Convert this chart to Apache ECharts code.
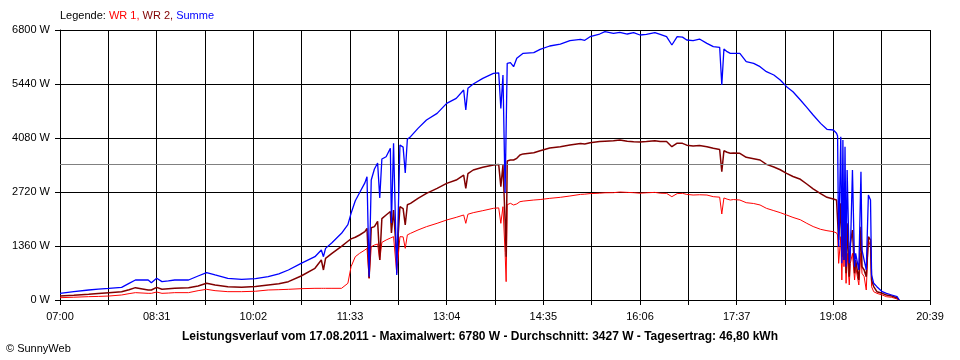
<!DOCTYPE html>
<html>
<head>
<meta charset="utf-8">
<script src="https://cdn.jsdelivr.net/npm/echarts@6/dist/echarts.min.js"></script>
<style>html,body{margin:0;padding:0;background:#fff}#c{width:960px;height:360px}</style>
</head>
<body>
<div id="c"></div>
<script>
// minutes since midnight
const times = [420,433,447,456,466,478,485,491,503,506,511,516,522,528,541,550,558,566,578,591,604,616,626,635,647,660,666,668,670,676,685,691,694,698,702,707,709,711,713,716,719,721,723,727,731,732,734,737,740,743,745,747,750,757,765,775,784,793,800,802,804,809,818,828,833,835,837,839,840,841,844,847,850,853,856,866,872,881,891,900,910,914,919,928,933,941,947,954,960,966,972,980,985,991,996,1001,1006,1010,1016,1022,1029,1035,1041,1043,1045,1048,1051,1054,1060,1066,1073,1079,1085,1092,1098,1104,1110,1117,1123,1129,1136,1142,1148,1151,1152,1153,1155,1156,1157,1158,1159,1160,1161,1163,1164,1166,1168,1169,1172,1174,1175,1177,1179,1181,1183,1184,1186,1189,1194,1198,1203,1208,1210];
const wr1 = [58,70,84,90,100,126,160,185,168,168,201,168,175,185,185,235,269,235,210,210,220,252,260,269,285,294,294,294,294,294,294,420,839,1091,1175,1259,1300,546,1340,1385,1410,1007,1450,1511,1560,1560,1595,672,1595,1590,1301,1640,1679,1763,1847,1931,2015,2082,2141,1931,2160,2199,2250,2309,2320,1931,2350,1200,462,2400,2435,2393,2420,2476,2490,2518,2530,2560,2586,2619,2660,2665,2680,2690,2700,2703,2720,2710,2703,2690,2700,2710,2690,2686,2602,2680,2686,2660,2644,2650,2644,2602,2590,2166,2570,2540,2518,2530,2518,2451,2430,2393,2309,2250,2200,2141,2080,2020,1931,1850,1780,1746,1721,1690,1637,923,1595,504,1511,839,1343,420,1175,378,923,1175,504,839,378,1175,672,588,252,1511,1343,336,210,168,126,84,67,25,0];
const wr2 = [100,120,143,165,185,210,260,311,252,252,319,269,285,294,311,353,420,378,336,319,340,378,410,462,604,798,1007,756,1050,1175,1350,1480,1540,1580,1637,1720,1805,546,1820,1847,1980,1007,2050,2141,2230,1687,2267,1049,2350,2300,1889,2400,2435,2561,2686,2812,2938,3022,3148,2812,3180,3274,3341,3400,3410,2854,3400,2000,1091,3500,3526,3526,3568,3652,3680,3710,3760,3830,3861,3904,3940,3930,3960,3990,4000,4012,4030,4000,3987,3980,3990,4012,3990,3990,3861,3950,3946,3900,3878,3890,3861,3820,3790,3232,3760,3720,3694,3700,3694,3593,3560,3526,3416,3350,3280,3190,3110,3040,2921,2800,2680,2586,2544,2520,2476,1511,2435,1091,2350,1007,2224,672,1931,588,1427,1763,672,1007,504,1847,839,756,588,1595,1511,504,336,210,168,126,101,50,0];
const summe = [168,210,252,275,294,319,420,504,504,437,546,462,480,504,504,604,688,630,546,521,540,588,660,756,924,1091,1259,1091,1300,1443,1679,1900,2183,2500,2700,2950,3106,588,3022,3300,3450,2569,3550,3609,3820,1939,3946,630,3904,3850,3198,4050,4114,4323,4533,4701,4953,5079,5289,4785,5330,5440,5583,5709,5720,4827,5667,2700,2687,5961,5978,5877,6087,6150,6213,6230,6313,6397,6447,6531,6565,6540,6631,6699,6758,6716,6741,6699,6733,6674,6690,6733,6690,6631,6422,6631,6620,6548,6531,6573,6464,6380,6364,5415,6320,6254,6213,6213,6213,6003,5961,5877,5751,5667,5541,5373,5246,5037,4852,4659,4449,4298,4281,4200,4130,1343,4113,923,4030,1007,3861,839,3274,923,1175,3274,839,1175,756,3232,1259,1007,756,2644,2518,630,420,336,210,168,126,84,0];

const startMin = 420;      // 07:00
const endMin = 1239;       // 20:39
const labelStep = 91;      // minutes between labels
const yTicks = [0, 1360, 2720, 4080, 5440, 6800];
const average = 3427;
const seriesNames = ['WR 1', 'WR 2', 'Summe'];
const titleText = 'Leistungsverlauf vom 17.08.2011 - Maximalwert: 6780 W - Durchschnitt: 3427 W - Tagesertrag: 46,80 kWh';

const FONT = 'Arial, "Liberation Sans", sans-serif';
function fmtTime(m) {
  const h = Math.floor(m / 60), mm = Math.round(m % 60);
  return String(h).padStart(2, '0') + ':' + String(mm).padStart(2, '0');
}
function pts(vals) { return times.map((t, i) => [t - startMin, vals[i]]); }

const chart = echarts.init(document.getElementById('c'), null, {renderer: 'canvas'});
chart.setOption({
  animation: false,
  backgroundColor: '#ffffff',
  grid: {left: 60, right: 30, top: 30, bottom: 60, containLabel: false},
  xAxis: {
    type: 'value', min: 0, max: endMin - startMin, interval: labelStep / 2,
    axisLine: {show: true, lineStyle: {color: '#000', width: 1}},
    axisTick: {show: true, length: 5, lineStyle: {color: '#000'}},
    axisLabel: {
      color: '#000', fontFamily: FONT, fontSize: 11, margin: 11,
      showMinLabel: true, showMaxLabel: true,
      formatter: v => {
        const r = v % labelStep;
        if (Math.abs(r) > 0.01 && Math.abs(r - labelStep) > 0.01) return '';
        return fmtTime(startMin + v);
      }
    },
    splitLine: {show: true, lineStyle: {color: '#000', width: 1}}
  },
  yAxis: {
    type: 'value', min: yTicks[0], max: yTicks[yTicks.length - 1], interval: yTicks[1] - yTicks[0],
    axisLine: {show: true, lineStyle: {color: '#000', width: 1}},
    axisTick: {show: true, length: 5, lineStyle: {color: '#000'}},
    axisLabel: {color: '#000', fontFamily: FONT, fontSize: 11, margin: 10, formatter: v => String(v) + ' W'},
    splitLine: {show: true, lineStyle: {color: '#000', width: 1}}
  },
  series: [
    {
      name: seriesNames[0], type: 'line', data: pts(wr1), showSymbol: false, symbol: 'none',
      lineStyle: {color: '#ff0000', width: 1}, itemStyle: {color: '#ff0000'}, z: 3,
      markLine: {
        silent: true, symbol: 'none', label: {show: false},
        lineStyle: {color: '#808080', width: 1, type: 'solid'},
        data: [{yAxis: average}]
      }
    },
    {
      name: seriesNames[1], type: 'line', data: pts(wr2), showSymbol: false, symbol: 'none',
      lineStyle: {color: '#800000', width: 1.5}, itemStyle: {color: '#800000'}, z: 4
    },
    {
      name: seriesNames[2], type: 'line', data: pts(summe), showSymbol: false, symbol: 'none',
      lineStyle: {color: '#0000ff', width: 1.3}, itemStyle: {color: '#0000ff'}, z: 5
    }
  ],
  graphic: [
    {
      type: 'text', left: 60, top: 10,
      style: {
        text: '{k|Legende: }{a|' + seriesNames[0] + ',} {b|' + seriesNames[1] + ',} {c|' + seriesNames[2] + '}',
        font: '11px ' + FONT,
        rich: {
          k: {fill: '#000', fontSize: 11, fontFamily: FONT},
          a: {fill: '#ff0000', fontSize: 11, fontFamily: FONT},
          b: {fill: '#800000', fontSize: 11, fontFamily: FONT},
          c: {fill: '#0000ff', fontSize: 11, fontFamily: FONT}
        }
      }
    },
    {
      type: 'text', x: 480, y: 337,
      style: {text: titleText, fill: '#000', font: 'bold 12px ' + FONT, textAlign: 'center', textVerticalAlign: 'middle'}
    },
    {
      type: 'text', x: 6, y: 349,
      style: {text: '\u00A9 SunnyWeb', fill: '#000', font: '11px ' + FONT, textAlign: 'left', textVerticalAlign: 'middle'}
    }
  ]
});
</script>
</body>
</html>
